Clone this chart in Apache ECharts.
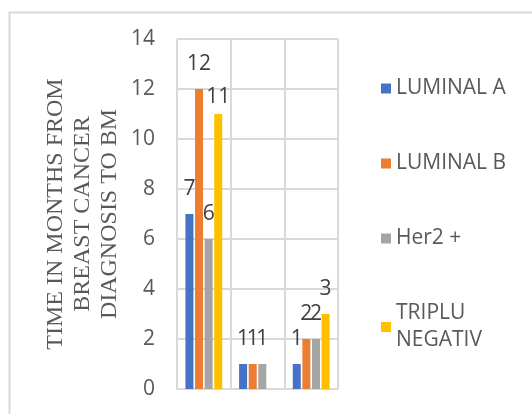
<!DOCTYPE html>
<html>
<head>
<meta charset="utf-8">
<script src="https://cdn.jsdelivr.net/npm/echarts@6/dist/echarts.min.js"></script>
<style>
  html, body { margin: 0; padding: 0; background: #fff; }
  #chart { width: 532px; height: 414px; }
</style>
</head>
<body>
<div id="chart"></div>
<script>
const categories = ['1', '2', '3']
const seriesNames = ['LUMINAL A', 'LUMINAL B', 'Her2 +', 'TRIPLU NEGATIV']
const luminalA = [7, 1, 1]
const luminalB = [12, 1, 2]
const her2 = [6, 1, 2]
const tripluNegativ = [11, null, 3]
const yTicks = [0, 2, 4, 6, 8, 10, 12, 14]

const colors = ['#4472C4', '#ED7D31', '#A5A5A5', '#FFC000']
const values = [luminalA, luminalB, her2, tripluNegativ]

const chart = echarts.init(document.getElementById('chart'))

chart.setOption({
  animation: false,
  textStyle: { fontFamily: 'Open Sans' },
  grid: { left: 177, right: 194, top: 39, bottom: 25, outerBoundsMode: 'none' },
  graphic: [
    {
      type: 'rect',
      left: 7,
      top: 10,
      shape: { width: 600, height: 500 },
      style: { fill: 'none', stroke: '#D9D9D9', lineWidth: 2 },
      silent: true,
    },
  ],
  legend: {
    orient: 'vertical',
    left: 381,
    top: 75,
    padding: 0,
    itemWidth: 10,
    itemHeight: 10,
    itemGap: 48,
    icon: 'rect',
    textStyle: { fontSize: 21, color: '#595959', lineHeight: 27, fontFamily: 'Open Sans' },
    formatter: (name) => (name === 'TRIPLU NEGATIV' ? 'TRIPLU\nNEGATIV' : name),
    data: seriesNames,
  },
  xAxis: {
    type: 'category',
    data: categories,
    axisLabel: { show: false },
    axisTick: { show: false },
    axisLine: { lineStyle: { color: '#D9D9D9', width: 2 } },
    splitLine: { show: true, lineStyle: { color: '#D9D9D9', width: 2 } },
  },
  yAxis: {
    type: 'value',
    min: yTicks[0],
    max: yTicks[yTicks.length - 1],
    interval: 2,
    name: 'TIME IN MONTHS FROM\nBREAST CANCER\nDIAGNOSIS TO BM',
    nameLocation: 'middle',
    nameRotate: 90,
    nameGap: 54,
    nameTextStyle: {
      fontFamily: 'Liberation Serif',
      fontSize: 24,
      lineHeight: 27,
      color: '#595959',
    },
    axisLine: { show: false },
    axisTick: { show: false },
    axisLabel: { fontSize: 21, color: '#595959', margin: 22, fontFamily: 'Open Sans' },
    splitLine: { lineStyle: { color: '#D9D9D9', width: 2 } },
  },
  series: seriesNames.map((name, si) => ({
    name,
    type: 'bar',
    barWidth: 8,
    barGap: '20%',
    itemStyle: { color: colors[si] },
    label: {
      show: true,
      position: 'top',
      distance: 14,
      fontSize: 21,
      color: '#404040',
      fontFamily: 'Open Sans',
    },
    data: values[si].map((v, i) =>
      si === 3 && i === 0 ? { value: v, label: { distance: 6 } } : v
    ),
  })),
})
</script>
</body>
</html>
